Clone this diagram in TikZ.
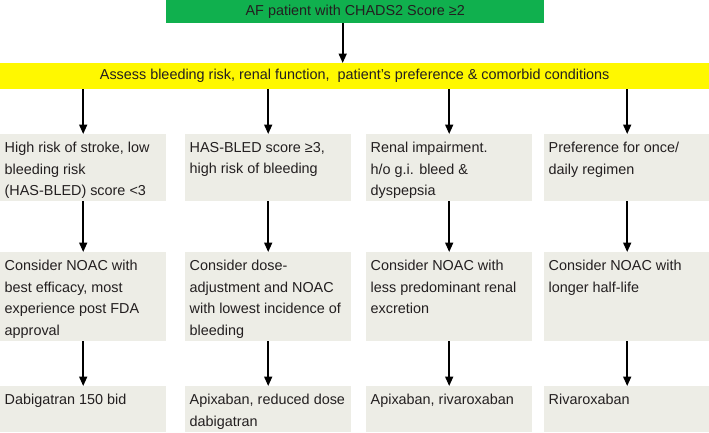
\documentclass[tikz,border=0pt]{standalone}
\usepackage{fontspec}
\setmainfont{Liberation Sans}
\usetikzlibrary{arrows.meta}
\definecolor{cellgrey}{HTML}{EDEDE6}
\definecolor{topgreen}{HTML}{10B04E}
\definecolor{baryellow}{HTML}{FFF800}
\definecolor{txt}{HTML}{231F20}
\newcommand{\celltext}[2]{\parbox[c][#1][t]{157pt}{\raggedright\vspace*{8pt}#2}}
\tikzset{
  cell/.style={fill=cellgrey, inner xsep=4.5pt, inner ysep=0pt, anchor=north west, text=txt,
    font=\fontsize{14.4pt}{21.6pt}\selectfont},
  arr/.style={line width=1.7pt, -{Triangle[length=9.5pt,width=8pt]}},
  banner/.style={inner sep=0pt, text=txt, font=\fontsize{14.4pt}{17pt}\selectfont}
}
\begin{document}
\begin{tikzpicture}[x=1pt,y=-1pt]
\useasboundingbox (0,0) rectangle (709,432);
% top green box
\node[banner, fill=topgreen, minimum width=378pt, minimum height=23pt, anchor=north west] (g) at (166,0) {AF patient with CHADS2 Score ≥2};
% yellow bar
\node[banner, fill=baryellow, minimum width=709pt, minimum height=26pt, anchor=north west] (yel) at (0,63) {Assess bleeding risk, renal function,~ patient’s preference \& comorbid conditions};
% row 1
\node[cell] (a1) at (0,134) {\celltext{67pt}{High risk of stroke, low\\bleeding risk\\(HAS-BLED) score <3}};
\node[cell] (a2) at (185,134) {\celltext{67pt}{HAS-BLED score ≥3,\\high risk of bleeding}};
\node[cell] (a3) at (366,134) {\celltext{67pt}{Renal impairment.\\h/o g.i. bleed \&\\dyspepsia}};
\node[cell] (a4) at (544,134) {\celltext{67pt}{Preference for once/\\daily regimen}};
% row 2
\node[cell] (b1) at (0,252) {\celltext{89pt}{Consider NOAC with\\best efficacy, most\\experience post FDA\\approval}};
\node[cell] (b2) at (185,252) {\celltext{89pt}{Consider dose-\\adjustment and NOAC\\with lowest incidence of\\bleeding}};
\node[cell] (b3) at (366,252) {\celltext{89pt}{Consider NOAC with\\less predominant renal\\excretion}};
\node[cell] (b4) at (544,252) {\celltext{89pt}{Consider NOAC with\\longer half-life}};
% row 3
\node[cell] (c1) at (0,386) {\celltext{46pt}{Dabigatran 150 bid}};
\node[cell] (c2) at (185,386) {\celltext{46pt}{Apixaban, reduced dose\\dabigatran}};
\node[cell] (c3) at (366,386) {\celltext{46pt}{Apixaban, rivaroxaban}};
\node[cell] (c4) at (544,386) {\celltext{46pt}{Rivaroxaban}};
% arrows
\draw[arr] ([xshift=-12.5pt]g.south) -- ([xshift=-12.5pt]g.south |- yel.north);
\foreach \i in {1,2,3,4}{
  \draw[arr] (yel.south -| a\i.north) -- (a\i.north);
  \draw[arr] (a\i.south) -- (b\i.north);
  \draw[arr] (b\i.south) -- (c\i.north);
}
\end{tikzpicture}
\end{document}
